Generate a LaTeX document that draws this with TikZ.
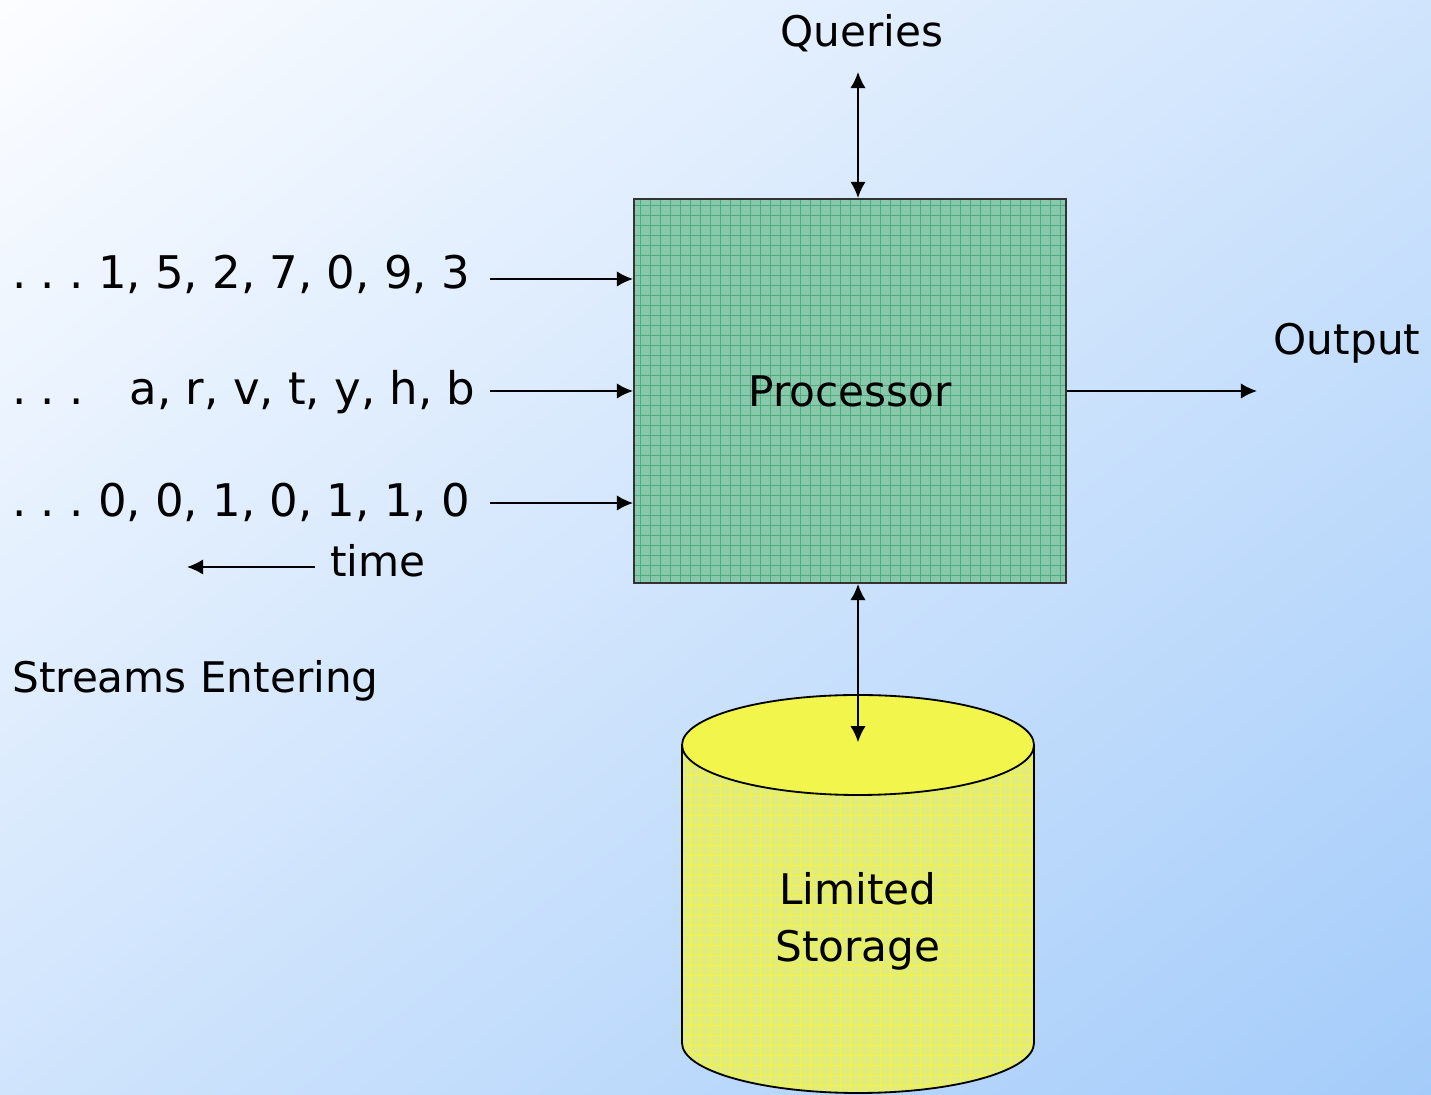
\documentclass[tikz,border=0pt]{standalone}
\usepackage{fontspec}
\setmainfont{DejaVu Sans}
\usepackage{tikz}
\usetikzlibrary{arrows.meta}
\tikzset{>={Latex[length=11.5pt,width=11pt]}}
\definecolor{bgtop}{HTML}{FCFDFF}
\definecolor{bgmid}{HTML}{DAE8FC}
\definecolor{bgbot}{HTML}{A4CCFA}
\definecolor{procfill}{HTML}{88C9AC}
\definecolor{procgrid}{HTML}{4FAC7E}
\definecolor{cylbody}{HTML}{E2EC7C}
\definecolor{cylgrid}{HTML}{F4F43A}
\definecolor{cyltop}{HTML}{F2F64C}
\tikzset{
  flow/.style={->,line width=1.4pt},
  twoway/.style={<->,line width=1.4pt},
  streamtxt/.style={anchor=base west,inner sep=0pt,font=\fontsize{32}{40}\selectfont},
}

\begin{document}
\begin{tikzpicture}[font=\fontsize{30}{40.5}\selectfont]
            \useasboundingbox (0,0) rectangle (35.775,27.375);
            % background, white at the top left, blue at the bottom right
            \begin{scope}
                \clip (0,0) rectangle (35.775,27.375);
                \begin{scope}[transform canvas={rotate around={37.4:(17.8875,13.6875)}}]
                    \shade[top color=bgtop,middle color=bgmid,bottom color=bgbot] (-6.2,-8.05) rectangle (41.9,35.43);
                \end{scope}
            \end{scope}
            % processor
            \fill[procfill] (15.85,12.8) rectangle (26.65,22.4);
            \draw[procgrid,line width=0.6pt,step=0.25] (15.85,12.8) grid (26.65,22.4);
            \node[draw=black!80,line width=1.4pt,minimum width=10.8cm,minimum height=9.6cm,inner sep=0pt] (proc) at (21.25,17.6) {Processor};
            % storage
            \coordinate (stor) at (21.45,8.75);
            \fill[cylbody] (17.05,8.75) -- (17.05,1.3) arc[start angle=180,end angle=360,x radius=4.4,y radius=1.25] -- (25.85,8.75) -- cycle;
            \begin{scope}
                \clip (17.05,8.75) -- (17.05,1.3) arc[start angle=180,end angle=360,x radius=4.4,y radius=1.25] -- (25.85,8.75) -- cycle;
                \draw[cylgrid,line width=0.6pt,step=0.25] (17,0) grid (26,9);
            \end{scope}
            \draw[line width=1.3pt] (17.05,8.75) -- (17.05,1.3) arc[start angle=180,end angle=360,x radius=4.4,y radius=1.25] -- (25.85,8.75);
            \filldraw[fill=cyltop,line width=1.3pt] (stor) ellipse[x radius=4.4,y radius=1.25];
            \node[align=center] (store) at (21.45,4.35) {Limited\\Storage};
            \draw[twoway] (stor) ++(0,0.07) coordinate (stortop) (stortop) -- (stortop |- proc.south);
            % queries and output
            \node (queries) at (21.55,26.55) {Queries};
            \coordinate (qend) at (21.45,25.575);
            \draw[twoway] (qend) -- (qend |- proc.north);
            \coordinate (out) at (31.425,17.6);
            \draw[flow] (proc.east |- out) -- (out);
            \node (output) at (33.675,18.8) {Output};
            % streams
            \node[streamtxt] (s1) at (0.3,20.15) {.\ .\ .\ 1, 5, 2, 7, 0, 9, 3};
            \node[streamtxt] (s2) at (0.3,17.25) {.\ .\ .\hspace{1.15cm}a, r, v, t, y, h, b};
            \node[streamtxt] (s3) at (0.3,14.45) {.\ .\ .\ 0, 0, 1, 0, 1, 1, 0};
            \foreach \y/\s in {20.4/s1,17.6/s2,14.8/s3}
                \draw[flow] (12.25,\y) -- (proc.west |- 0,\y);
            \node[anchor=base west,inner sep=0pt] (time) at (8.25,12.95) {time};
            \coordinate (past) at (4.675,13.2);
            \draw[flow] (7.875,13.2) -- (past);
            \node[anchor=base west,inner sep=0pt] (enter) at (0.3,10.05) {Streams Entering};
        \end{tikzpicture}
\end{document}
